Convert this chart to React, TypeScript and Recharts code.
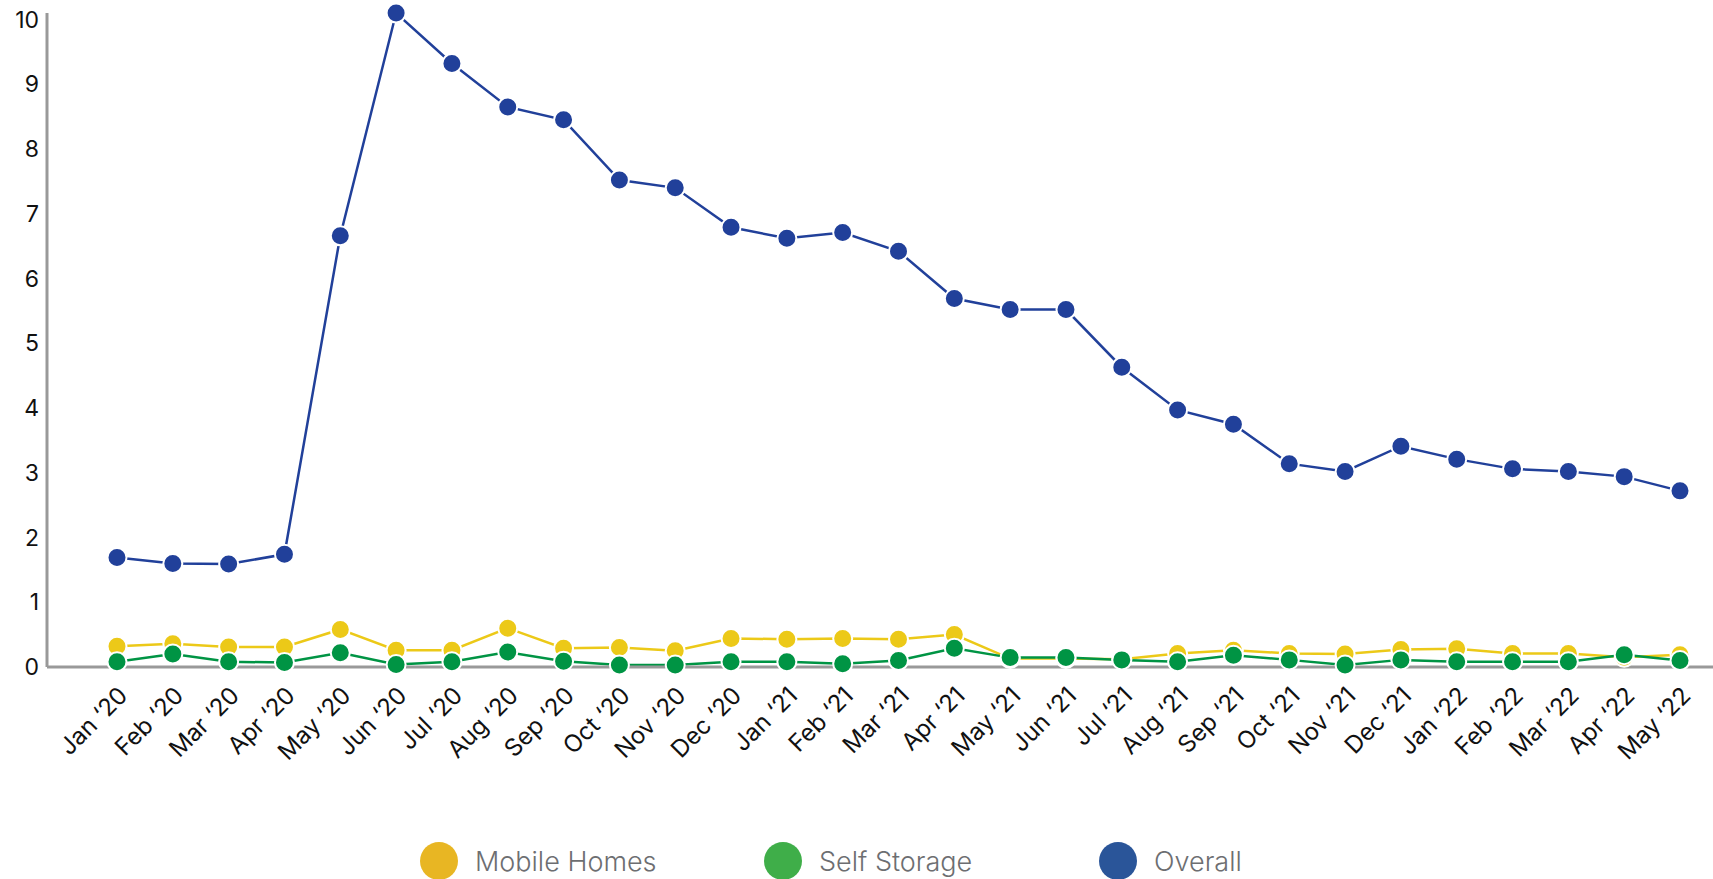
import React from "react";
import { LineChart, Line, XAxis, YAxis, Legend } from "recharts";

const months = [
  "Jan ‘20", "Feb ‘20", "Mar ‘20", "Apr ‘20", "May ‘20", "Jun ‘20", "Jul ‘20", "Aug ‘20", "Sep ‘20", "Oct ‘20", "Nov ‘20", "Dec ‘20",
  "Jan ‘21", "Feb ‘21", "Mar ‘21", "Apr ‘21", "May ‘21", "Jun ‘21", "Jul ‘21", "Aug ‘21", "Sep ‘21", "Oct ‘21", "Nov ‘21", "Dec ‘21",
  "Jan ‘22", "Feb ‘22", "Mar ‘22", "Apr ‘22", "May ‘22",
];

const overall = [
  1.69, 1.6, 1.59, 1.74, 6.66, 10.1, 9.32, 8.65, 8.45, 7.52, 7.4, 6.79,
  6.62, 6.71, 6.42, 5.69, 5.52, 5.52, 4.63, 3.97, 3.75, 3.14, 3.02, 3.41,
  3.21, 3.06, 3.02, 2.94, 2.72,
];

const mobileHomes = [
  0.32, 0.36, 0.31, 0.31, 0.58, 0.26, 0.26, 0.6, 0.29, 0.3, 0.25, 0.44,
  0.43, 0.44, 0.43, 0.5, 0.13, 0.13, 0.12, 0.21, 0.26, 0.21, 0.2, 0.27,
  0.28, 0.21, 0.21, 0.15, 0.19,
];

const selfStorage = [
  0.08, 0.2, 0.08, 0.07, 0.22, 0.04, 0.08, 0.23, 0.09, 0.03, 0.03, 0.08,
  0.08, 0.05, 0.1, 0.29, 0.145, 0.145, 0.11, 0.08, 0.18, 0.11, 0.03, 0.11,
  0.08, 0.08, 0.08, 0.19, 0.1,
];

const yTicks = [0, 1, 2, 3, 4, 5, 6, 7, 8, 9, 10];

const data = months.map((m, i) => ({
  month: m,
  overall: overall[i],
  mobile: mobileHomes[i],
  storage: selfStorage[i],
}));

const legendItems = [
  { label: "Mobile Homes", color: "#e8b623", width: 344 },
  { label: "Self Storage", color: "#3fae49", width: 335 },
  { label: "Overall", color: "#2a5599", width: 200 },
];

const FONT = "Inter, Lato, sans-serif";

function renderLegend() {
  return (
    <div style={{ display: "flex", alignItems: "center", fontFamily: FONT }}>
      {legendItems.map((it) => (
        <div key={it.label} style={{ display: "flex", alignItems: "center", width: it.width }}>
          <svg width={38} height={38}>
            <circle cx={19} cy={19} r={19} fill={it.color} />
          </svg>
          <span style={{ marginLeft: 17, fontSize: 27, fontWeight: 300, color: "#6d6e71" }}>{it.label}</span>
        </div>
      ))}
    </div>
  );
}

const dot = (color: string) => ({ r: 9.5, fill: color, stroke: "#fff", strokeWidth: 2 });

export default function App() {
  return (
    <div style={{ position: "absolute", left: 0, top: 0, background: "#fff" }}>
      <LineChart width={1713} height={879} data={data} margin={{ top: 13, right: 0, bottom: 0, left: 0 }}>
        <XAxis
          dataKey="month"
          padding={{ left: 70, right: 33 }}
          height={212}
          interval={0}
          tickLine={false}
          axisLine={{ stroke: "#999", strokeWidth: 3 }}
          tick={{ fill: "#111", fontSize: 24, fontFamily: FONT, angle: -45, textAnchor: "end", dx: 0, dy: 10 }}
        />
        <YAxis
          width={47}
          domain={[0, 10.1]}
          ticks={yTicks}
          tickLine={false}
          axisLine={{ stroke: "#999", strokeWidth: 3 }}
          tick={{ fill: "#111", fontSize: 23, fontFamily: FONT }}
        />
        <Legend verticalAlign="middle" content={renderLegend} wrapperStyle={{ top: 842, left: 420, width: "auto" }} />
        <Line dataKey="overall" stroke="#21409a" strokeWidth={2.5} dot={dot("#21409a")} isAnimationActive={false} />
        <Line dataKey="mobile" stroke="#ecc918" strokeWidth={2.5} dot={dot("#ecc918")} isAnimationActive={false} />
        <Line dataKey="storage" stroke="#009444" strokeWidth={2.5} dot={dot("#009444")} isAnimationActive={false} />
      </LineChart>
    </div>
  );
}
